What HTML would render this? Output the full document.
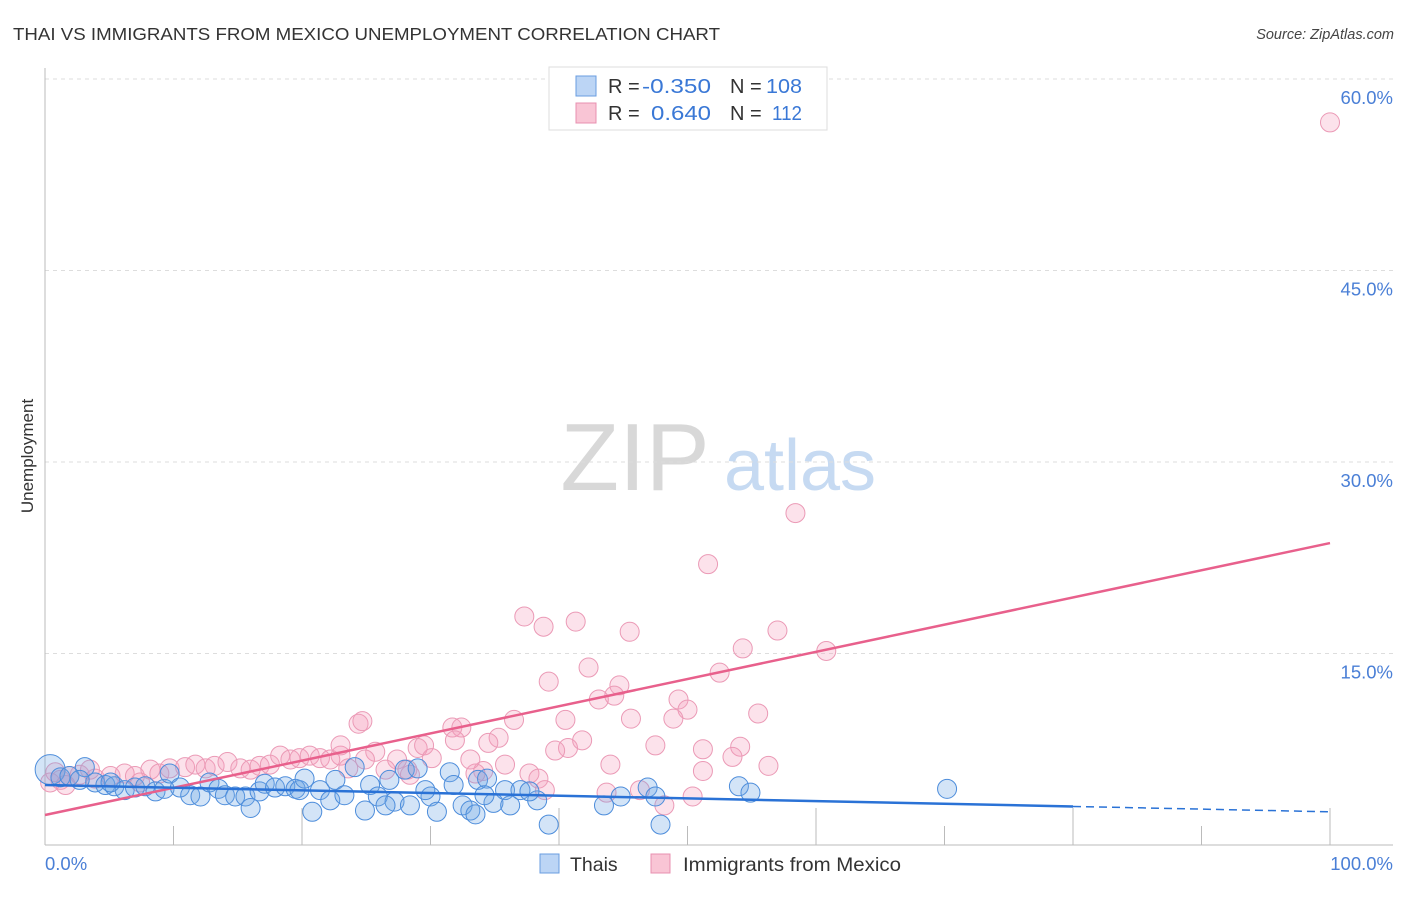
<!DOCTYPE html>
<html><head><meta charset="utf-8"><style>
body{margin:0;background:#fff;font-family:"Liberation Sans",sans-serif;}
svg text{font-family:"Liberation Sans",sans-serif;}
</style></head><body>
<svg id="chart" width="1406" height="892" xmlns="http://www.w3.org/2000/svg">
<text x="13" y="40" font-size="17.5" fill="#333" textLength="707" lengthAdjust="spacingAndGlyphs">THAI VS IMMIGRANTS FROM MEXICO UNEMPLOYMENT CORRELATION CHART</text>
<text x="1394" y="39" font-size="14.5" fill="#444" text-anchor="end" font-style="italic">Source: ZipAtlas.com</text>
<text transform="translate(33,456) rotate(-90)" font-size="17" fill="#333" text-anchor="middle">Unemployment</text>
<g>
<text x="635" y="490" font-size="96" fill="#d8d8d8" text-anchor="middle" font-family="Liberation Serif, serif">ZIP</text>
<text x="800" y="490" font-size="72" fill="#c6daf2" text-anchor="middle">atlas</text>
</g>
<g id="grid"></g>
<g id="axes"></g>
<g id="pink"></g>
<g id="blue"></g>
<g id="lines"></g>
<g>
<rect x="549" y="67" width="278" height="63" fill="#fff" stroke="#ddd"/>
<rect x="576" y="76" width="20" height="20" fill="#bcd5f5" stroke="#6a9de0"/>
<text x="608" y="93" font-size="20" fill="#333">R =</text>
<text x="642" y="93" font-size="20" fill="#3a78d6" textLength="69" lengthAdjust="spacingAndGlyphs">-0.350</text>
<text x="730" y="93" font-size="20" fill="#333">N =</text>
<text x="766" y="93" font-size="20" fill="#3a78d6" textLength="36" lengthAdjust="spacingAndGlyphs">108</text>
<rect x="576" y="103" width="20" height="20" fill="#f9c5d5" stroke="#e890b0"/>
<text x="608" y="120" font-size="20" fill="#333">R =</text>
<text x="651" y="120" font-size="20" fill="#3a78d6" textLength="60" lengthAdjust="spacingAndGlyphs">0.640</text>
<text x="730" y="120" font-size="20" fill="#333">N =</text>
<text x="772" y="120" font-size="20" fill="#3a78d6" textLength="30" lengthAdjust="spacingAndGlyphs">112</text>
</g>
<g>
<rect x="540" y="854" width="19" height="19" fill="#bcd5f5" stroke="#6a9de0"/>
<text x="570" y="871" font-size="19.5" fill="#333">Thais</text>
<rect x="651" y="854" width="19" height="19" fill="#f9c5d5" stroke="#e890b0"/>
<text x="683" y="871" font-size="19.5" fill="#333" textLength="218" lengthAdjust="spacingAndGlyphs">Immigrants from Mexico</text>
</g>
</svg>
<script>
const yTicks=[15,30,45,60];
const yTickLabels=["15.0%","30.0%","45.0%","60.0%"];
const xTickLabels=["0.0%","100.0%"];
const pinkX=[100,58.4,51.6,37.3,38.8,41.3,45.5,57.0,54.3,60.8,42.3,39.2,52.5,44.7,44.3,43.1,49.3,50.0,55.5,40.5,45.6,36.5,48.9,24.4,24.7,47.5,51.2,54.1,40.7,39.7,41.8,35.3,31.7,32.4,34.5,31.9,29.0,29.5,25.7,23.0,27.4,30.1,35.8,44.0,56.3,51.2,53.5,37.7,38.4,34.1,33.5,28.2,23.6,1.2,1.9,2.7,3.9,5.1,6.2,7.0,8.2,8.9,9.7,10.9,11.7,12.5,13.2,14.2,15.2,16.0,16.7,17.5,18.3,19.1,19.8,20.6,21.4,22.2,23.0,24.9,26.5,28.4,33.1,38.9,43.7,46.3,48.2,50.4,0.4,0.8,1.6,3.5,7.4];
const pinkY=[56.6,26.0,22.0,17.9,17.1,17.5,16.7,16.8,15.4,15.2,13.9,12.8,13.5,12.5,11.7,11.4,11.4,10.6,10.3,9.8,9.9,9.8,9.9,9.5,9.7,7.8,7.5,7.7,7.6,7.4,8.2,8.4,9.2,9.2,8.0,8.2,7.6,7.8,7.3,7.0,6.7,6.8,6.3,6.3,6.2,5.8,6.9,5.6,5.2,5.8,5.6,5.9,6.0,5.1,5.4,5.5,5.2,5.4,5.6,5.4,5.9,5.6,6.0,6.1,6.3,6.0,6.2,6.5,6.0,5.9,6.2,6.3,7.0,6.7,6.8,7.0,6.8,6.7,7.8,6.7,5.9,5.5,6.7,4.3,4.1,4.3,3.1,3.8,4.9,5.7,4.7,5.9,4.9];
const blueX=[0.4,1.2,1.9,3.1,3.9,4.7,5.4,6.2,7.0,7.8,8.6,9.3,9.7,10.5,11.3,12.1,12.8,13.5,14.0,14.8,15.6,16.0,16.7,17.1,17.9,18.7,19.5,19.8,20.2,20.8,21.4,22.2,22.6,23.3,24.1,24.9,25.3,25.9,26.8,27.2,28.0,28.4,29.0,30.0,30.5,31.5,32.5,33.1,33.5,33.7,34.4,34.9,35.8,36.2,37.0,38.3,39.2,43.5,44.8,46.9,47.5,47.9,54.0,54.9,70.2,26.5,29.6,31.8,37.7,34.2,2.7,5.1];
const blueY=[5.9,5.3,5.4,6.1,4.9,4.7,4.6,4.3,4.5,4.6,4.2,4.4,5.6,4.5,3.9,3.8,4.9,4.4,3.9,3.8,3.8,2.9,4.2,4.8,4.5,4.6,4.4,4.3,5.2,2.6,4.3,3.5,5.1,3.9,6.1,2.7,4.7,3.8,5.1,3.4,5.9,3.1,6.0,3.8,2.6,5.7,3.1,2.7,2.4,5.1,5.2,3.3,4.3,3.1,4.3,3.5,1.6,3.1,3.8,4.5,3.8,1.6,4.6,4.1,4.4,3.1,4.3,4.7,4.2,3.9,5.1,4.9];
const pinkTrend=[2.35,23.65];
const blueTrend=[4.7,2.6];
const NS="http://www.w3.org/2000/svg";
const X0=45,X1=1330,Y0=845,YTOP=79;
function sx(v){return X0+(X1-X0)*v/100;}
function sy(v){return Y0-(Y0-YTOP)*v/60;}
function mk(tag,attrs,parent){const e=document.createElementNS(NS,tag);for(const k in attrs)e.setAttribute(k,attrs[k]);parent.appendChild(e);return e;}
const grid=document.getElementById('grid'),axes=document.getElementById('axes');
yTicks.forEach((t,i)=>{
 const l=mk('line',{x1:X0,x2:1393,y1:sy(t),y2:sy(t),stroke:'#ddd','stroke-dasharray':'4,4'},grid);
 
 
 const tx=mk('text',{x:1393,y:sy(t)+25,'font-size':18.5,fill:'#4a7fd6','text-anchor':'end'},axes);
 tx.textContent=yTickLabels[i];
 
 
});
const ax=mk('line',{x1:X0,x2:1393,y1:Y0,y2:Y0,stroke:'#bbb'},axes);


const ay=mk('line',{x1:X0,x2:X0,y1:68,y2:Y0,stroke:'#bbb'},axes);


for(let k=1;k<=10;k++){
 const t=mk('line',{x1:sx(k*10),x2:sx(k*10),y1:Y0,y2:k%2?826:808,stroke:'#bbb'},axes);
 
 
}
const xl0=mk('text',{x:X0,y:870,'font-size':18.5,fill:'#4a7fd6'},axes);xl0.textContent=xTickLabels[0];


const xl1=mk('text',{x:1393,y:870,'font-size':18.5,fill:'#4a7fd6','text-anchor':'end'},axes);xl1.textContent=xTickLabels[1];


const pg=document.getElementById('pink'),bg=document.getElementById('blue');
pinkX.forEach((x,i)=>{
 const c=mk('circle',{cx:sx(x),cy:sy(pinkY[i]),r:9.5,fill:'rgba(244,160,188,0.3)',stroke:'#eb9ab6','stroke-width':1},pg);
 
 
});
blueX.forEach((x,i)=>{
 const c=mk('circle',{cx:sx(x),cy:sy(blueY[i]),r:i===0?15:9.5,fill:'rgba(110,165,230,0.3)',stroke:'#4d8ddb','stroke-width':1},bg);
 
 
});
const lg=document.getElementById('lines');
const pl=mk('line',{x1:sx(0),y1:sy(pinkTrend[0]),x2:sx(100),y2:sy(pinkTrend[1]),stroke:'#e8608c','stroke-width':2.5},lg);


const bAt=v=>blueTrend[0]+(blueTrend[1]-blueTrend[0])*v/100;
const bl=mk('line',{x1:sx(0),y1:sy(bAt(0)),x2:sx(80),y2:sy(bAt(80)),stroke:'#2a72d6','stroke-width':2.5},lg);


const bd=mk('line',{x1:sx(80),y1:sy(bAt(80)),x2:sx(100),y2:sy(bAt(100)),stroke:'#2a72d6','stroke-width':1.5,'stroke-dasharray':'8,5'},lg);


</script>
</body></html>
